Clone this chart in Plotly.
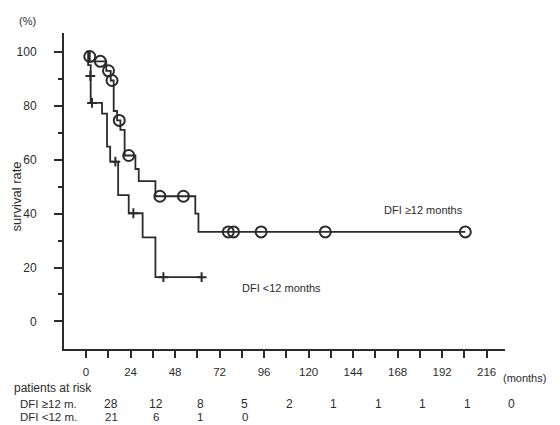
import plotly.graph_objects as go

# ---- data ----
# DFI >= 12 months: step curve (time in months, survival %)
ge12_t = [0, 2.0, 10.9, 13.3, 14.9, 16.7, 18.5, 20.8, 26.6, 28.4, 37.4, 58.9, 60.6, 204.5]
ge12_s = [100, 96.4, 92.9, 89.3, 78, 74.5, 71, 61.5, 56.5, 52, 46.4, 40, 33.2, 33.2]
# censored marks (open circles)
ge12_cens_t = [2.0, 7.7, 12.1, 14.0, 17.9, 23.0, 39.8, 52.5, 76.7, 79.5, 94.4, 129.0, 204.5]
ge12_cens_s = [98.2, 96.4, 92.9, 89.3, 74.5, 61.5, 46.4, 46.4, 33.2, 33.2, 33.2, 33.2, 33.2]

# DFI < 12 months
lt12_t = [0, 1.1, 2.5, 8.6, 11.3, 13.0, 17.3, 23.0, 30.5, 37.4, 62.3]
lt12_s = [100, 95, 81, 77, 64.8, 59.2, 46.8, 40.1, 31.2, 16.4, 16.4]
lt12_cens_t = [2.3, 3.2, 15.8, 25.5, 41.7, 62.3]
lt12_cens_s = [91, 81, 59.2, 40.1, 16.4, 16.4]

# patients at risk
risk_times = [0, 24, 48, 72, 96, 120, 144, 168, 192, 216]
risk_ge12 = [28, 12, 8, 5, 2, 1, 1, 1, 1, 0]
risk_lt12 = [21, 6, 1, 0]

x_ticks = list(range(0, 217, 24))
x_minor = list(range(12, 217, 24))
y_ticks = [0, 20, 40, 60, 80, 100]
y_minor = [10, 30, 50, 70, 90]

X_RANGE = [-11.9, 225.9]
Y_RANGE = [-10.2, 106.9]
RISK_SHIFT = 13.5  # at-risk counts are printed a little right of their time point


def xpaper(t):
    return (t - X_RANGE[0]) / (X_RANGE[1] - X_RANGE[0])


# ---- style ----
INK = "#2b2b2b"
FONT = "Liberation Sans, Arial, sans-serif"

fig = go.Figure()
fig.add_trace(go.Scatter(x=ge12_t, y=ge12_s, mode="lines", line=dict(shape="hv", color=INK, width=1.8),
                         showlegend=False, hoverinfo="skip"))
fig.add_trace(go.Scatter(x=ge12_cens_t, y=ge12_cens_s, mode="markers",
                         marker=dict(symbol="circle-open", size=11, color=INK, line=dict(width=2)),
                         showlegend=False, cliponaxis=False))
fig.add_trace(go.Scatter(x=lt12_t, y=lt12_s, mode="lines", line=dict(shape="hv", color=INK, width=1.8),
                         showlegend=False, hoverinfo="skip"))
fig.add_trace(go.Scatter(x=lt12_cens_t, y=lt12_cens_s, mode="markers",
                         marker=dict(symbol="cross-thin-open", size=7, color=INK, line=dict(width=2, color=INK)),
                         showlegend=False, cliponaxis=False))


def txt(x, y, text, size=11, xref="paper", yref="paper", xanchor="center", angle=0):
    return dict(x=x, y=y, xref=xref, yref=yref, text=text, showarrow=False, textangle=angle,
                xanchor=xanchor, yanchor="middle", font=dict(size=size, color=INK, family=FONT))


ROW1_Y = -0.174
ROW2_Y = -0.216

ann = [
    txt(181.8, 41.4, "DFI ≥12 months", xref="x", yref="y"),
    txt(105.3, 12.5, "DFI <12 months", xref="x", yref="y"),
    txt(-0.083, 1.039, "(%)"),
    txt(-0.107, 0.482, "survival rate", size=13, angle=-90),
    txt(1.045, -0.091, "(months)"),
    txt(-0.1186, -0.122, "patients at risk", size=12, xanchor="left"),
    txt(-0.104, ROW1_Y, "DFI ≥12 m.", size=11.5, xanchor="left"),
    txt(-0.104, ROW2_Y, "DFI <12 m.", size=11.5, xanchor="left"),
]
for t, n in zip(risk_times, risk_ge12):
    ann.append(txt(xpaper(t + RISK_SHIFT), ROW1_Y, str(n), size=12))
for t, n in zip(risk_times, risk_lt12):
    ann.append(txt(xpaper(t + RISK_SHIFT), ROW2_Y, str(n), size=11.5))

fig.update_layout(
    width=560, height=425,
    margin=dict(l=56, r=63, t=25, b=84),
    paper_bgcolor="white", plot_bgcolor="white",
    font=dict(family=FONT, color=INK, size=11),
    annotations=ann,
    xaxis=dict(range=X_RANGE, tickvals=x_ticks, ticks="outside", ticklen=7, tickwidth=1.5,
               tickcolor=INK, showline=True, linecolor=INK, linewidth=2, showgrid=False, zeroline=False,
               tickfont=dict(size=11.5, color=INK), ticklabelstandoff=4, automargin=False,
               minor=dict(tickvals=x_minor, ticks="outside", ticklen=7, tickwidth=1.5, tickcolor=INK)),
    yaxis=dict(range=Y_RANGE, tickvals=y_ticks, ticks="outside", ticklen=8, tickwidth=1.5,
               tickcolor=INK, showline=True, linecolor=INK, linewidth=2, showgrid=False, zeroline=False,
               tickfont=dict(size=12, color=INK), ticklabelstandoff=15, automargin=False,
               minor=dict(tickvals=y_minor, ticks="outside", ticklen=4, tickwidth=1.5, tickcolor=INK)),
)

fig.write_html("out.html")
